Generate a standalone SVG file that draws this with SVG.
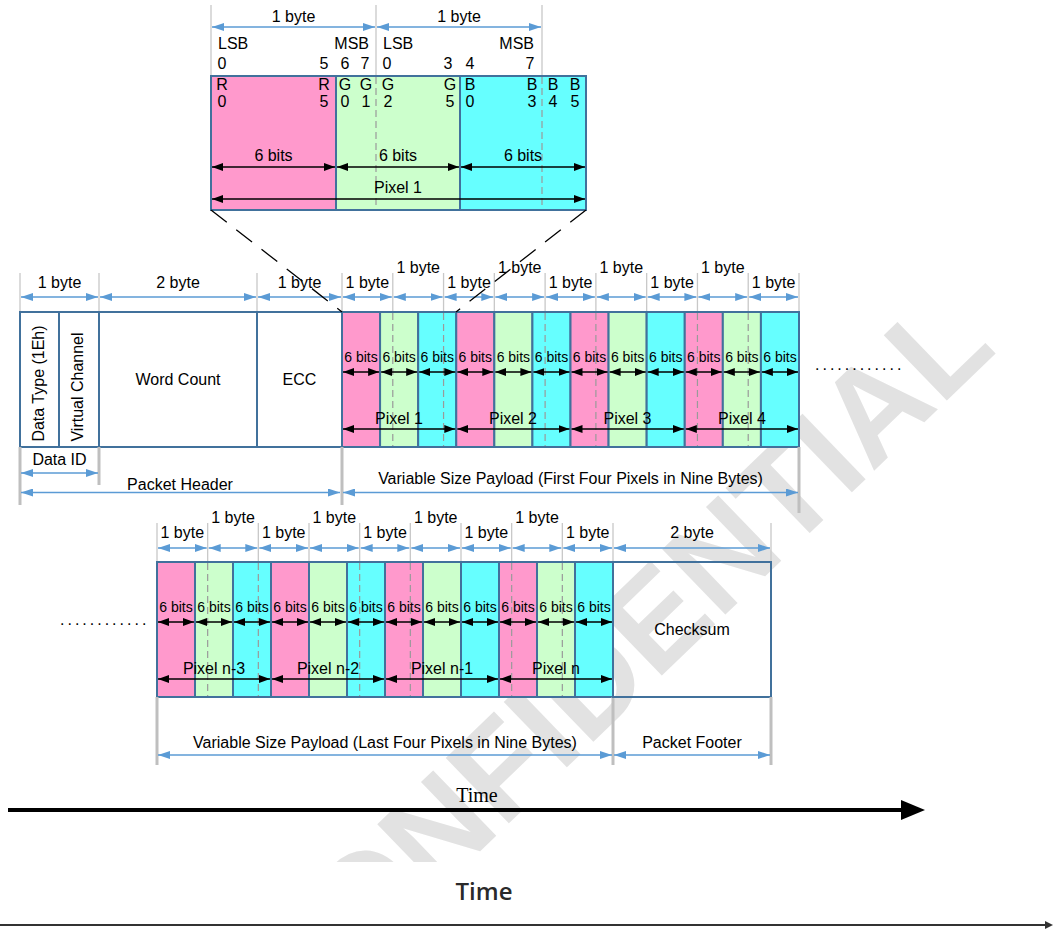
<svg xmlns="http://www.w3.org/2000/svg" width="1054" height="931" viewBox="0 0 1054 931">
<defs>
<style>
.t{font-family:"Liberation Sans",Arial,sans-serif;font-size:16px;fill:#000}
.s{font-size:14px}
.m{text-anchor:middle}
.e{text-anchor:end}
.cl{stroke:#41719c;stroke-width:2}
.p{fill:#ff99cc}.g{fill:#ccffcc}.b{fill:#66ffff}.w{fill:none}
.tk{stroke:#c8c8c8;stroke-width:1.3}
.tb{stroke:#bfbfbf;stroke-width:3}
.ds{stroke:#9a9a9a;stroke-width:1.2;stroke-dasharray:7 4}
.ba{stroke:#5b9bd5;stroke-width:1.5;fill:none;marker-start:url(#bh);marker-end:url(#bh)}
.ka{stroke:#000;stroke-width:1.5;fill:none;marker-start:url(#kh);marker-end:url(#kh)}
.zm{stroke:#000;stroke-width:1.3;stroke-dasharray:20 12;fill:none}
.dots{font-family:"Liberation Sans",Arial,sans-serif;font-size:16px;letter-spacing:3px;fill:#000}
</style>
<marker id="bh" markerUnits="userSpaceOnUse" markerWidth="12" markerHeight="8" refX="12" refY="4" orient="auto-start-reverse"><path d="M0,0L12,4L0,8z" fill="#5b9bd5"/></marker>
<marker id="kh" markerUnits="userSpaceOnUse" markerWidth="11" markerHeight="8" refX="11" refY="4" orient="auto-start-reverse"><path d="M0,0L11,4L0,8z" fill="#000"/></marker>
<marker id="th" markerUnits="userSpaceOnUse" markerWidth="24" markerHeight="20" refX="1" refY="10" orient="auto"><path d="M0,0L24,10L0,20z" fill="#000"/></marker>
<marker id="th2" markerUnits="userSpaceOnUse" markerWidth="8" markerHeight="8" refX="1" refY="4" orient="auto"><path d="M0,0L8,4L0,8z" fill="#333"/></marker>
<clipPath id="wmclip"><rect x="0" y="0" width="1054" height="862"/></clipPath>
</defs>
<rect width="1054" height="931" fill="#fff"/>

<g id="watermark" clip-path="url(#wmclip)">
<text x="0" y="0" transform="translate(645,692) rotate(-44)" text-anchor="middle" font-family="Liberation Sans, Arial, sans-serif" font-weight="bold" font-size="132" fill="#e2e2e2">CONFIDENTIAL</text>
</g>

<g id="pixel-detail">
<line class="tk" x1="211" y1="5" x2="211" y2="76"/>
<line class="tk" x1="376" y1="5" x2="376" y2="76"/>
<line class="tk" x1="542" y1="5" x2="542" y2="76"/>
<text class="t m" x="293.5" y="22">1 byte</text>
<text class="t m" x="459" y="22">1 byte</text>
<line class="ba" x1="212" y1="27" x2="375" y2="27"/>
<line class="ba" x1="377" y1="27" x2="541" y2="27"/>
<text class="t" x="218" y="49">LSB</text>
<text class="t e" x="369" y="49">MSB</text>
<text class="t" x="383" y="49">LSB</text>
<text class="t e" x="534" y="49">MSB</text>
<text class="t m" x="222" y="69">0</text>
<text class="t m" x="324" y="69">5</text>
<text class="t m" x="345" y="69">6</text>
<text class="t m" x="365" y="69">7</text>
<text class="t m" x="387" y="69">0</text>
<text class="t m" x="448" y="69">3</text>
<text class="t m" x="470" y="69">4</text>
<text class="t m" x="530" y="69">7</text>
<rect class="cl p" x="211" y="76" width="125" height="134"/>
<rect class="cl g" x="336" y="76" width="124" height="134"/>
<rect class="cl b" x="460" y="76" width="126" height="134"/>
<line class="ds" x1="376" y1="77" x2="376" y2="209"/>
<line class="ds" x1="542" y1="77" x2="542" y2="209"/>
<text class="t m" x="222" y="89.5">R</text>
<text class="t m" x="324" y="89.5">R</text>
<text class="t m" x="345" y="89.5">G</text>
<text class="t m" x="366" y="89.5">G</text>
<text class="t m" x="388" y="89.5">G</text>
<text class="t m" x="450" y="89.5">G</text>
<text class="t m" x="470" y="89.5">B</text>
<text class="t m" x="532" y="89.5">B</text>
<text class="t m" x="553" y="89.5">B</text>
<text class="t m" x="575" y="89.5">B</text>
<text class="t m" x="222" y="107">0</text>
<text class="t m" x="324" y="107">5</text>
<text class="t m" x="345" y="107">0</text>
<text class="t m" x="366" y="107">1</text>
<text class="t m" x="388" y="107">2</text>
<text class="t m" x="450" y="107">5</text>
<text class="t m" x="470" y="107">0</text>
<text class="t m" x="532" y="107">3</text>
<text class="t m" x="553" y="107">4</text>
<text class="t m" x="575" y="107">5</text>
<text class="t m" x="273.5" y="160.5">6 bits</text>
<text class="t m" x="398" y="160.5">6 bits</text>
<text class="t m" x="523" y="160.5">6 bits</text>
<line class="ka" x1="212" y1="167" x2="335" y2="167"/>
<line class="ka" x1="337" y1="167" x2="459" y2="167"/>
<line class="ka" x1="461" y1="167" x2="585" y2="167"/>
<text class="t m" x="398" y="192.5">Pixel 1</text>
<line class="ka" x1="212" y1="199" x2="585" y2="199"/>
</g>

<g id="packet-header">
<line class="tk" x1="20" y1="273" x2="20" y2="312"/>
<line class="tk" x1="99" y1="273" x2="99" y2="312"/>
<line class="tk" x1="257" y1="273" x2="257" y2="312"/>
<text class="t m" x="59.5" y="287.5">1 byte</text>
<text class="t m" x="178" y="287.5">2 byte</text>
<text class="t m" x="299.5" y="287.5">1 byte</text>
<line class="ba" x1="21" y1="297" x2="98" y2="297"/>
<line class="ba" x1="100" y1="297" x2="256" y2="297"/>
<line class="ba" x1="258" y1="297" x2="341" y2="297"/>
<rect class="cl w" x="20" y="312" width="39" height="135"/>
<rect class="cl w" x="59" y="312" width="40" height="135"/>
<rect class="cl w" x="99" y="312" width="158" height="135"/>
<rect class="cl w" x="257" y="312" width="85" height="135"/>
<text class="t m" transform="translate(44,383.5) rotate(-90)">Data Type (1Eh)</text>
<text class="t m" transform="translate(83,387) rotate(-90)">Virtual Channel</text>
<text class="t m" x="178" y="384.5">Word Count</text>
<text class="t m" x="299.5" y="384.5">ECC</text>
<line class="tb" x1="20" y1="447" x2="20" y2="505"/>
<line class="tb" x1="99" y1="447" x2="99" y2="485"/>
<text class="t m" x="59.5" y="464.5">Data ID</text>
<line class="ba" x1="21" y1="473" x2="98" y2="473"/>
<text class="t m" x="180" y="490">Packet Header</text>
<line class="ba" x1="21" y1="492.5" x2="340" y2="492.5"/>
</g>

<g id="payload-first">
<line class="tk" x1="342" y1="273" x2="342" y2="312"/>
<line class="tk" x1="392.78" y1="273" x2="392.78" y2="312"/>
<line class="tk" x1="443.56" y1="273" x2="443.56" y2="312"/>
<line class="tk" x1="494.33" y1="273" x2="494.33" y2="312"/>
<line class="tk" x1="545.11" y1="273" x2="545.11" y2="312"/>
<line class="tk" x1="595.89" y1="273" x2="595.89" y2="312"/>
<line class="tk" x1="646.67" y1="273" x2="646.67" y2="312"/>
<line class="tk" x1="697.44" y1="273" x2="697.44" y2="312"/>
<line class="tk" x1="748.22" y1="273" x2="748.22" y2="312"/>
<line class="tk" x1="799" y1="273" x2="799" y2="312"/>
<text class="t m" x="367.4" y="287.5">1 byte</text>
<text class="t m" x="418.2" y="272.5">1 byte</text>
<text class="t m" x="469" y="287.5">1 byte</text>
<text class="t m" x="519.7" y="272.5">1 byte</text>
<text class="t m" x="570.5" y="287.5">1 byte</text>
<text class="t m" x="621.3" y="272.5">1 byte</text>
<text class="t m" x="672.1" y="287.5">1 byte</text>
<text class="t m" x="722.8" y="272.5">1 byte</text>
<text class="t m" x="773.6" y="287.5">1 byte</text>
<line class="ba" x1="343" y1="297" x2="391.8" y2="297"/>
<line class="ba" x1="393.8" y1="297" x2="442.6" y2="297"/>
<line class="ba" x1="444.6" y1="297" x2="493.3" y2="297"/>
<line class="ba" x1="495.3" y1="297" x2="544.1" y2="297"/>
<line class="ba" x1="546.1" y1="297" x2="594.9" y2="297"/>
<line class="ba" x1="596.9" y1="297" x2="645.7" y2="297"/>
<line class="ba" x1="647.7" y1="297" x2="696.4" y2="297"/>
<line class="ba" x1="698.4" y1="297" x2="747.2" y2="297"/>
<line class="ba" x1="749.2" y1="297" x2="798" y2="297"/>
<rect class="cl p" x="342" y="312" width="38.08" height="135"/>
<rect class="cl g" x="380.08" y="312" width="38.08" height="135"/>
<rect class="cl b" x="418.17" y="312" width="38.08" height="135"/>
<rect class="cl p" x="456.25" y="312" width="38.08" height="135"/>
<rect class="cl g" x="494.33" y="312" width="38.08" height="135"/>
<rect class="cl b" x="532.42" y="312" width="38.08" height="135"/>
<rect class="cl p" x="570.5" y="312" width="38.08" height="135"/>
<rect class="cl g" x="608.58" y="312" width="38.08" height="135"/>
<rect class="cl b" x="646.67" y="312" width="38.08" height="135"/>
<rect class="cl p" x="684.75" y="312" width="38.08" height="135"/>
<rect class="cl g" x="722.83" y="312" width="38.08" height="135"/>
<rect class="cl b" x="760.92" y="312" width="38.08" height="135"/>
<line class="ds" x1="392.78" y1="313" x2="392.78" y2="446"/>
<line class="ds" x1="443.56" y1="313" x2="443.56" y2="446"/>
<line class="ds" x1="545.11" y1="313" x2="545.11" y2="446"/>
<line class="ds" x1="595.89" y1="313" x2="595.89" y2="446"/>
<line class="ds" x1="697.44" y1="313" x2="697.44" y2="446"/>
<line class="ds" x1="748.22" y1="313" x2="748.22" y2="446"/>
<text class="t s m" x="361.04" y="362">6 bits</text>
<text class="t s m" x="399.13" y="362">6 bits</text>
<text class="t s m" x="437.21" y="362">6 bits</text>
<text class="t s m" x="475.29" y="362">6 bits</text>
<text class="t s m" x="513.38" y="362">6 bits</text>
<text class="t s m" x="551.46" y="362">6 bits</text>
<text class="t s m" x="589.54" y="362">6 bits</text>
<text class="t s m" x="627.63" y="362">6 bits</text>
<text class="t s m" x="665.71" y="362">6 bits</text>
<text class="t s m" x="703.79" y="362">6 bits</text>
<text class="t s m" x="741.88" y="362">6 bits</text>
<text class="t s m" x="779.96" y="362">6 bits</text>
<line class="ka" x1="343" y1="372" x2="379.1" y2="372"/>
<line class="ka" x1="381.1" y1="372" x2="417.2" y2="372"/>
<line class="ka" x1="419.2" y1="372" x2="455.3" y2="372"/>
<line class="ka" x1="457.3" y1="372" x2="493.3" y2="372"/>
<line class="ka" x1="495.3" y1="372" x2="531.4" y2="372"/>
<line class="ka" x1="533.4" y1="372" x2="569.5" y2="372"/>
<line class="ka" x1="571.5" y1="372" x2="607.6" y2="372"/>
<line class="ka" x1="609.6" y1="372" x2="645.7" y2="372"/>
<line class="ka" x1="647.7" y1="372" x2="683.8" y2="372"/>
<line class="ka" x1="685.8" y1="372" x2="721.8" y2="372"/>
<line class="ka" x1="723.8" y1="372" x2="759.9" y2="372"/>
<line class="ka" x1="761.9" y1="372" x2="798" y2="372"/>
<text class="t m" x="399" y="423.5">Pixel 1</text>
<text class="t m" x="513" y="423.5">Pixel 2</text>
<text class="t m" x="627.5" y="423.5">Pixel 3</text>
<text class="t m" x="742" y="423.5">Pixel 4</text>
<line class="ka" x1="343" y1="429" x2="455.3" y2="429"/>
<line class="ka" x1="457.3" y1="429" x2="569.5" y2="429"/>
<line class="ka" x1="571.5" y1="429" x2="683.8" y2="429"/>
<line class="ka" x1="685.8" y1="429" x2="798" y2="429"/>
<line class="tb" x1="342" y1="447" x2="342" y2="505"/>
<line class="tb" x1="799" y1="447" x2="799" y2="513"/>
<text class="t m" x="570.5" y="483.5">Variable Size Payload (First Four Pixels in Nine Bytes)</text>
<line class="ba" x1="343" y1="492.5" x2="798" y2="492.5"/>
<text class="dots" x="815" y="370">............</text>
</g>

<g id="payload-last">
<text class="dots" x="60" y="625">............</text>
<line class="tk" x1="157" y1="523" x2="157" y2="562"/>
<line class="tk" x1="207.67" y1="523" x2="207.67" y2="562"/>
<line class="tk" x1="258.33" y1="523" x2="258.33" y2="562"/>
<line class="tk" x1="309" y1="523" x2="309" y2="562"/>
<line class="tk" x1="359.67" y1="523" x2="359.67" y2="562"/>
<line class="tk" x1="410.33" y1="523" x2="410.33" y2="562"/>
<line class="tk" x1="461" y1="523" x2="461" y2="562"/>
<line class="tk" x1="511.67" y1="523" x2="511.67" y2="562"/>
<line class="tk" x1="562.33" y1="523" x2="562.33" y2="562"/>
<line class="tk" x1="613" y1="523" x2="613" y2="562"/>
<text class="t m" x="182.3" y="537.5">1 byte</text>
<text class="t m" x="233" y="522.5">1 byte</text>
<text class="t m" x="283.7" y="537.5">1 byte</text>
<text class="t m" x="334.3" y="522.5">1 byte</text>
<text class="t m" x="385" y="537.5">1 byte</text>
<text class="t m" x="435.7" y="522.5">1 byte</text>
<text class="t m" x="486.3" y="537.5">1 byte</text>
<text class="t m" x="537" y="522.5">1 byte</text>
<text class="t m" x="587.7" y="537.5">1 byte</text>
<line class="ba" x1="158" y1="548" x2="206.7" y2="548"/>
<line class="ba" x1="208.7" y1="548" x2="257.3" y2="548"/>
<line class="ba" x1="259.3" y1="548" x2="308" y2="548"/>
<line class="ba" x1="310" y1="548" x2="358.7" y2="548"/>
<line class="ba" x1="360.7" y1="548" x2="409.3" y2="548"/>
<line class="ba" x1="411.3" y1="548" x2="460" y2="548"/>
<line class="ba" x1="462" y1="548" x2="510.7" y2="548"/>
<line class="ba" x1="512.7" y1="548" x2="561.3" y2="548"/>
<line class="ba" x1="563.3" y1="548" x2="612" y2="548"/>
<rect class="cl p" x="157" y="562" width="38" height="135"/>
<rect class="cl g" x="195" y="562" width="38" height="135"/>
<rect class="cl b" x="233" y="562" width="38" height="135"/>
<rect class="cl p" x="271" y="562" width="38" height="135"/>
<rect class="cl g" x="309" y="562" width="38" height="135"/>
<rect class="cl b" x="347" y="562" width="38" height="135"/>
<rect class="cl p" x="385" y="562" width="38" height="135"/>
<rect class="cl g" x="423" y="562" width="38" height="135"/>
<rect class="cl b" x="461" y="562" width="38" height="135"/>
<rect class="cl p" x="499" y="562" width="38" height="135"/>
<rect class="cl g" x="537" y="562" width="38" height="135"/>
<rect class="cl b" x="575" y="562" width="38" height="135"/>
<line class="ds" x1="207.67" y1="563" x2="207.67" y2="696"/>
<line class="ds" x1="258.33" y1="563" x2="258.33" y2="696"/>
<line class="ds" x1="359.67" y1="563" x2="359.67" y2="696"/>
<line class="ds" x1="410.33" y1="563" x2="410.33" y2="696"/>
<line class="ds" x1="511.67" y1="563" x2="511.67" y2="696"/>
<line class="ds" x1="562.33" y1="563" x2="562.33" y2="696"/>
<text class="t s m" x="176" y="612">6 bits</text>
<text class="t s m" x="214" y="612">6 bits</text>
<text class="t s m" x="252" y="612">6 bits</text>
<text class="t s m" x="290" y="612">6 bits</text>
<text class="t s m" x="328" y="612">6 bits</text>
<text class="t s m" x="366" y="612">6 bits</text>
<text class="t s m" x="404" y="612">6 bits</text>
<text class="t s m" x="442" y="612">6 bits</text>
<text class="t s m" x="480" y="612">6 bits</text>
<text class="t s m" x="518" y="612">6 bits</text>
<text class="t s m" x="556" y="612">6 bits</text>
<text class="t s m" x="594" y="612">6 bits</text>
<line class="ka" x1="158" y1="622" x2="194" y2="622"/>
<line class="ka" x1="196" y1="622" x2="232" y2="622"/>
<line class="ka" x1="234" y1="622" x2="270" y2="622"/>
<line class="ka" x1="272" y1="622" x2="308" y2="622"/>
<line class="ka" x1="310" y1="622" x2="346" y2="622"/>
<line class="ka" x1="348" y1="622" x2="384" y2="622"/>
<line class="ka" x1="386" y1="622" x2="422" y2="622"/>
<line class="ka" x1="424" y1="622" x2="460" y2="622"/>
<line class="ka" x1="462" y1="622" x2="498" y2="622"/>
<line class="ka" x1="500" y1="622" x2="536" y2="622"/>
<line class="ka" x1="538" y1="622" x2="574" y2="622"/>
<line class="ka" x1="576" y1="622" x2="612" y2="622"/>
<text class="t m" x="214" y="673.5">Pixel n-3</text>
<text class="t m" x="328" y="673.5">Pixel n-2</text>
<text class="t m" x="442" y="673.5">Pixel n-1</text>
<text class="t m" x="556" y="673.5">Pixel n</text>
<line class="ka" x1="158" y1="679" x2="270" y2="679"/>
<line class="ka" x1="272" y1="679" x2="384" y2="679"/>
<line class="ka" x1="386" y1="679" x2="498" y2="679"/>
<line class="ka" x1="500" y1="679" x2="612" y2="679"/>
<line class="tb" x1="157" y1="697" x2="157" y2="765"/>
<line class="tb" x1="613" y1="697" x2="613" y2="765"/>
<text class="t m" x="385" y="747.5">Variable Size Payload (Last Four Pixels in Nine Bytes)</text>
<line class="ba" x1="158" y1="755" x2="612" y2="755"/>
</g>

<g id="packet-footer">
<line class="tk" x1="771" y1="523" x2="771" y2="562"/>
<text class="t m" x="692" y="537.5">2 byte</text>
<line class="ba" x1="614" y1="548" x2="770" y2="548"/>
<rect class="cl w" x="613" y="562" width="158" height="135"/>
<text class="t m" x="692" y="634.5">Checksum</text>
<line class="tb" x1="771" y1="697" x2="771" y2="765"/>
<text class="t m" x="692" y="747.5">Packet Footer</text>
<line class="ba" x1="614" y1="755" x2="770" y2="755"/>
</g>

<g id="connectors">
<path class="zm" d="M211,210 L342,312"/>
<path class="zm" d="M586,210 L456,312"/>
</g>

<g id="time-axis">
<text x="477" y="802" text-anchor="middle" font-family="Liberation Serif, Times New Roman, serif" font-size="20" fill="#000">Time</text>
<line x1="8" y1="810" x2="902" y2="810" stroke="#000" stroke-width="4" marker-end="url(#th)"/>
<text x="484" y="900" text-anchor="middle" font-family="Open Sans, Liberation Sans, sans-serif" font-size="24" font-weight="600" fill="#2a2a2a">Time</text>
<line x1="0" y1="925" x2="1046" y2="925" stroke="#333" stroke-width="2" marker-end="url(#th2)"/>
</g>
</svg>
